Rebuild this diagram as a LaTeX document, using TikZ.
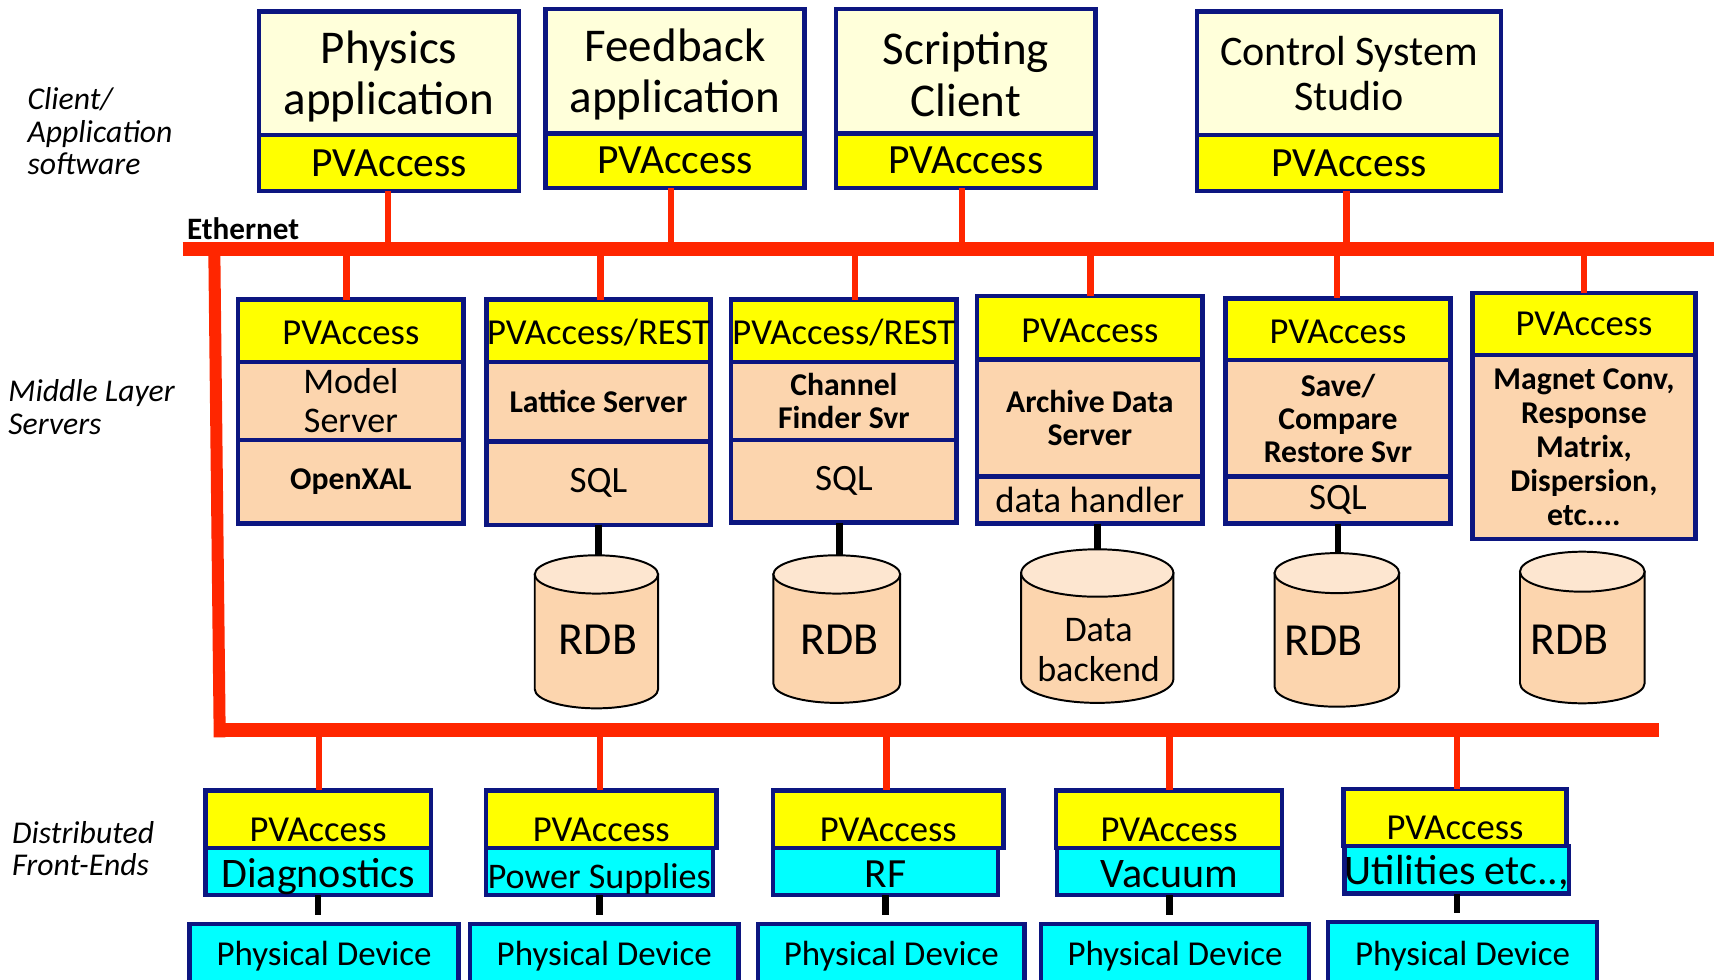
\documentclass[tikz,border=0pt]{standalone}
\usepackage{fontspec}
\setmainfont{Carlito}

\definecolor{navyb}{RGB}{12,22,128}
\definecolor{cream}{RGB}{255,255,218}
\definecolor{pvyel}{RGB}{255,255,0}
\definecolor{peach}{RGB}{252,213,174}
\definecolor{peachlt}{RGB}{253,230,208}
\definecolor{fecyan}{RGB}{0,255,255}
\definecolor{busred}{RGB}{255,38,0}

\newcommand\fsz[2]{\fontsize{#1}{#2}\selectfont}
\newcommand\zline[1]{\makebox[0pt]{#1}}
% one layer of a stacked box: name, style, x1, y1, x2, y2, text
\newcommand\tierbox[7]{%
  \node[tier,#2,anchor=north west,minimum width={#5pt-#3pt},minimum height={#6pt-#4pt}] (#1) at (#3,#4) {#7};}
% database cylinder: name, centre x, top y, bottom y, x radius, y radius
\newcommand\dbcyl[6]{%
  \coordinate (#1) at (#2,#3);
  \path[cylbody] ({#2-#5},{#3+#6}) -- ({#2-#5},{#4-#6})
     arc[start angle=180,end angle=360,x radius=#5pt,y radius=#6pt]
     -- ({#2+#5},{#3+#6}) -- cycle;
  \path[cyltop] (#2,{#3+#6}) ellipse[x radius=#5pt,y radius=#6pt];}

\tikzset{
  tier/.style={draw=navyb, line width=4pt, inner sep=0pt, outer sep=0pt, align=center, text=black},
  pvfill/.style={fill=pvyel},
  appfill/.style={fill=cream},
  srvfill/.style={fill=peach},
  fefill/.style={fill=fecyan},
  bus/.style={draw=busred, line width=13pt},
  drop/.style={draw=busred, line width=6pt},
  wire/.style={draw=black, line width=6pt},
  cylbody/.style={fill=peach, draw=black, line width=1.8pt},
  cyltop/.style={fill=peachlt, draw=black, line width=1.8pt},
  side/.style={font=\fsz{29}{29.5}\itshape, align=left, anchor=west, inner sep=0pt},
  cyltext/.style={inner sep=0pt, align=center},
}

\begin{document}
\begin{tikzpicture}[x=1pt, y=-1pt]
\useasboundingbox (0,0) rectangle (1568,896);
\begin{scope}
\clip (0,0) rectangle (1568,896);

% ---------- tier captions ----------
\node[side] (capclient) at (25,120) {Client/\\Application\\software};
\node[side] (capmiddle) at (7.5,372.5) {Middle Layer\\Servers};
\node[side] (capfront) at (11,776.5) {Distributed\\Front-Ends};
\node[anchor=west, inner sep=0pt, font=\fsz{28.5}{30}\bfseries] (capeth) at (171,209) {Ethernet};

% ---------- Ethernet bus ----------
\coordinate (busA) at (167,228);
\coordinate (busB) at (1580,228);
\coordinate (busC) at (196,224);
\coordinate (busD) at (201,674.5);
\coordinate (busE) at (195.5,668);
\coordinate (busF) at (1518,668);
\draw[bus] (busA) -- (busB);
\draw[bus, line width=11pt] (busC) -- (busD);
\draw[bus] (busE) -- (busF);

% ---------- client layer ----------
\tierbox{phys}{appfill, font=\fsz{43}{47}}{237}{10.5}{475}{123.5}{\zline{\rule{0pt}{36pt}Physics}\\\zline{application}}
\tierbox{physpv}{pvfill, font=\fsz{38}{40}}{237}{123.5}{475}{175}{\zline{PVAccess}}
\tierbox{feed}{appfill, font=\fsz{43}{47}}{499}{8}{736}{122}{\zline{\rule{0pt}{36pt}Feedback}\\\zline{application}}
\tierbox{feedpv}{pvfill, font=\fsz{38}{40}}{499}{122}{736}{172}{\zline{PVAccess}}
\tierbox{scr}{appfill, font=\fsz{43}{47}}{765}{8}{1002}{122}{\zline{\rule{0pt}{36pt}Scripting}\\\zline{Client}}
\tierbox{scrpv}{pvfill, font=\fsz{38}{40}}{765}{122}{1002}{172}{\zline{PVAccess}}
\tierbox{css}{appfill, font=\fsz{38.5}{41}}{1095}{10.5}{1373}{123.5}{\zline{Control System}\\\zline{Studio}}
\tierbox{csspv}{pvfill, font=\fsz{38}{40}}{1095}{123.5}{1373}{175}{\zline{PVAccess}}

% drops from clients to the bus
\coordinate (t1) at (355,228);
\coordinate (t2) at (614,228);
\coordinate (t3) at (880,228);
\coordinate (t4) at (1232,228);
\draw[drop] (t1) -- (t1 |- physpv.south);
\draw[drop] (t2) -- (t2 |- feedpv.south);
\draw[drop] (t3) -- (t3 |- scrpv.south);
\draw[drop] (t4) -- (t4 |- csspv.south);

% ---------- middle layer ----------
\coordinate (s1) at (317,228);
\coordinate (s2) at (549.5,228);
\coordinate (s3) at (782,228);
\coordinate (s4) at (997.5,228);
\coordinate (s5) at (1223,228);
\coordinate (s6) at (1449,228);

\tierbox{m1pv}{pvfill, font=\fsz{33.5}{36}}{218}{274}{424}{331}{\zline{\rule{0pt}{26pt}PVAccess}}
\tierbox{m1mid}{srvfill, font=\fsz{33}{36}}{218}{331}{424}{402.5}{\zline{Model}\\\zline{Server}}
\tierbox{m1low}{srvfill, font=\fsz{29}{30}\bfseries}{218}{402.5}{424}{479}{\zline{OpenXAL}}

\tierbox{m2pv}{pvfill, font=\fsz{33.5}{36}}{445}{274}{650}{331}{\zline{\rule{0pt}{26pt}PVAccess/REST}}
\tierbox{m2mid}{srvfill, font=\fsz{29}{30}\bfseries}{445}{331}{650}{404}{\zline{Lattice Server}}
\tierbox{m2low}{srvfill, font=\fsz{34}{36}}{445}{404}{650}{480}{\zline{SQL}}

\tierbox{m3pv}{pvfill, font=\fsz{33.5}{36}}{669}{274}{875}{331}{\zline{\rule{0pt}{26pt}PVAccess/REST}}
\tierbox{m3mid}{srvfill, font=\fsz{29}{30}\bfseries}{669}{331}{875}{402.5}{\zline{Channel}\\\zline{Finder Svr}}
\tierbox{m3low}{srvfill, font=\fsz{34}{36}}{669}{402.5}{875}{478}{\zline{SQL}}

\tierbox{m4pv}{pvfill, font=\fsz{33.5}{36}}{894}{271}{1100}{329}{\zline{\rule{0pt}{26pt}PVAccess}}
\tierbox{m4mid}{srvfill, font=\fsz{29}{30}\bfseries}{894}{329}{1100}{436}{\zline{Archive Data}\\\zline{Server}}
\tierbox{m4low}{srvfill, font=\fsz{33.5}{36}}{894}{436}{1100}{479}{\zline{data handler}}

\tierbox{m5pv}{pvfill, font=\fsz{33.5}{36}}{1121}{273}{1327}{329.5}{\zline{\rule{0pt}{26pt}PVAccess}}
\tierbox{m5mid}{srvfill, font=\fsz{29}{30}\bfseries}{1121}{329.5}{1327}{436}{\zline{Save/}\\\zline{Compare}\\\zline{Restore Svr}}
\tierbox{m5low}{srvfill, font=\fsz{34}{36}}{1121}{436}{1327}{479}{\zline{SQL}}

\tierbox{m6pv}{pvfill, font=\fsz{33.5}{36}}{1347}{268}{1551}{325}{\zline{PVAccess}}
\tierbox{m6mid}{srvfill, font=\fsz{29}{31}\bfseries}{1347}{325}{1551}{493}{\zline{Magnet Conv,}\\\zline{Response}\\\zline{Matrix,}\\\zline{Dispersion,}\\\zline{etc....}}

\draw[drop] (s1) -- (s1 |- m1pv.north);
\draw[drop] (s2) -- (s2 |- m2pv.north);
\draw[drop] (s3) -- (s3 |- m3pv.north);
\draw[drop] (s4) -- (s4 |- m4pv.north);
\draw[drop] (s5) -- (s5 |- m5pv.north);
\draw[drop] (s6) -- (s6 |- m6pv.north);

% ---------- databases ----------
\coordinate (w1) at (547.5,509);
\coordinate (w2) at (768,508);
\coordinate (w3) at (1004,504);
\coordinate (w4) at (1224,507);
\draw[wire] (w1 |- m2low.south) -- (w1);
\draw[wire] (w2 |- m3low.south) -- (w2);
\draw[wire] (w3 |- m4low.south) -- (w3);
\draw[wire] (w4 |- m5low.south) -- (w4);

\dbcyl{c1}{545.6}{508}{648}{56.4}{17.5}
\dbcyl{c2}{765.5}{508}{643}{58}{17.5}
\dbcyl{c3}{1003.8}{502.5}{643}{69.6}{21.7}
\dbcyl{c4}{1223}{506}{646.5}{57}{18.3}
\dbcyl{c5}{1447.5}{504.7}{643.4}{57}{18.3}

\node[cyltext, font=\fsz{42}{44}] (c1txt) at (547,585.5) {RDB};
\node[cyltext, font=\fsz{42}{44}] (c2txt) at (768,585) {RDB};
\node[cyltext, font=\fsz{33}{37}] (c3txt) at (1005,594.5) {Data\\backend};
\node[cyltext, font=\fsz{42}{44}] (c4txt) at (1211,586) {RDB};
\node[cyltext, font=\fsz{42}{44}] (c5txt) at (1436,585) {RDB};

% ---------- front-end layer ----------
\coordinate (e1) at (292,668);
\coordinate (e2) at (548.7,668);
\coordinate (e3) at (811,668);
\coordinate (e4) at (1070,668);
\coordinate (e5) at (1332.7,668);

\tierbox{f1pv}{pvfill, font=\fsz{33.5}{36}}{188}{723}{394}{776}{\zline{\rule{0pt}{40.6pt}PVAccess}}
\tierbox{f1low}{fefill, font=\fsz{38.5}{40}}{188}{776}{394}{819}{\zline{\rule{0pt}{36pt}Diagnostics}}
\tierbox{f2pv}{pvfill, font=\fsz{33.5}{36}}{444.5}{723}{655.5}{776}{\zline{\rule{0pt}{40.6pt}PVAccess}}
\tierbox{f2low}{fefill, font=\fsz{33}{36}}{444.5}{776}{652}{819}{\zline{\rule{0pt}{36pt}Power Supplies}}
\tierbox{f3pv}{pvfill, font=\fsz{33.5}{36}}{707}{723}{918}{776}{\zline{\rule{0pt}{40.6pt}PVAccess}}
\tierbox{f3low}{fefill, font=\fsz{38}{40}}{707}{776}{913}{819}{\zline{\rule{0pt}{28.5pt}RF}}
\tierbox{f4pv}{pvfill, font=\fsz{33.5}{36}}{966}{723}{1173}{776}{\zline{\rule{0pt}{40.6pt}PVAccess}}
\tierbox{f4low}{fefill, font=\fsz{38.5}{40}}{967}{776}{1173}{819}{\zline{\rule{0pt}{28.5pt}Vacuum}}
\tierbox{f5pv}{pvfill, font=\fsz{33.5}{36}}{1229}{722}{1433}{774}{\zline{\rule{0pt}{40.6pt}PVAccess}}
\tierbox{f5low}{fefill, font=\fsz{38.5}{40}}{1230}{774}{1435.5}{817.5}{\zline{\rule{0pt}{32pt}Utilities etc..,}}

\draw[drop] (e1) -- (e1 |- f1pv.north);
\draw[drop] (e2) -- (e2 |- f2pv.north);
\draw[drop] (e3) -- (e3 |- f3pv.north);
\draw[drop] (e4) -- (e4 |- f4pv.north);
\draw[drop] (e5) -- (e5 |- f5pv.north);

% ---------- physical devices ----------
\tierbox{p1}{fefill, font=\fsz{32}{34}}{173.5}{845}{419.5}{905}{\zline{Physical Device}}
\tierbox{p2}{fefill, font=\fsz{32}{34}}{430}{845}{675.5}{905}{\zline{Physical Device}}
\tierbox{p3}{fefill, font=\fsz{32}{34}}{693.5}{845}{937.3}{905}{\zline{Physical Device}}
\tierbox{p4}{fefill, font=\fsz{32}{34}}{952.5}{845}{1197.4}{905}{\zline{Physical Device}}
\tierbox{p5}{fefill, font=\fsz{32}{34}}{1215}{843.6}{1461}{905}{\zline{Physical Device}}

% short links from front-ends down towards their devices
\coordinate (p1t) at ([yshift=8pt]p1.north);
\coordinate (p2t) at ([yshift=8pt]p2.north);
\coordinate (p3t) at ([yshift=8pt]p3.north);
\coordinate (p4t) at ([yshift=8pt]p4.north);
\coordinate (p5t) at ([yshift=8pt]p5.north);
\draw[wire] (f1low.south) -- (f1low.south |- p1t);
\draw[wire] (f2low.south) -- (f2low.south |- p2t);
\draw[wire] (f3low.south) -- (f3low.south |- p3t);
\draw[wire] (f4low.south) -- (f4low.south |- p4t);
\draw[wire] (f5low.south) -- (f5low.south |- p5t);

\end{scope}
\end{tikzpicture}
\end{document}
